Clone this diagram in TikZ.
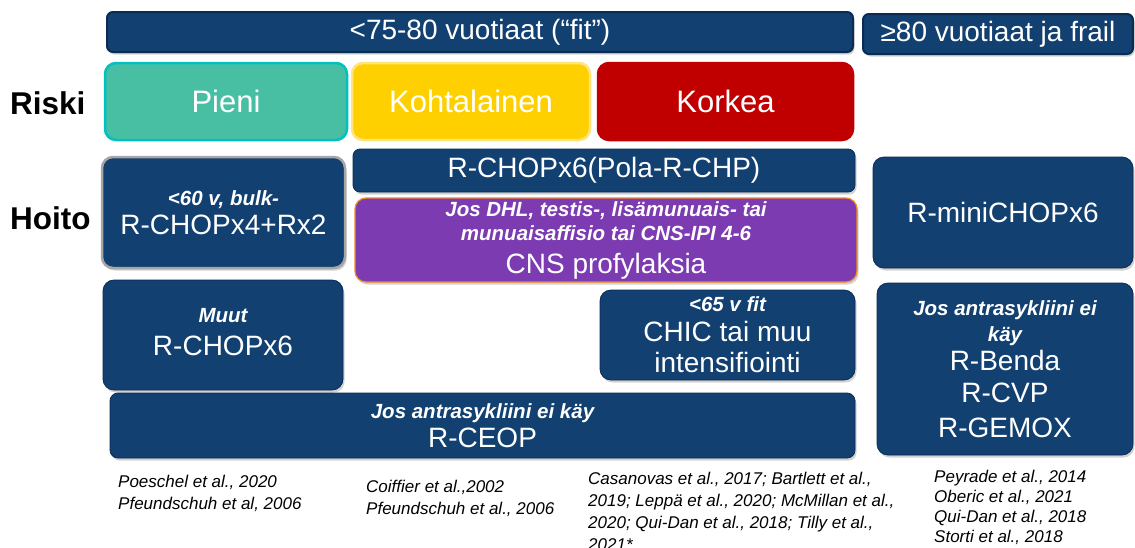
\documentclass[tikz,border=0pt]{standalone}
\usepackage{fontspec}
\setmainfont{Liberation Sans}
\usepackage{tikz}
\usetikzlibrary{shadows}
\usepackage{xcolor}
\definecolor{cNavy}{RGB}{17,64,113}
\definecolor{cNavyEdge}{RGB}{10,44,82}
\definecolor{cTeal}{RGB}{72,191,163}
\definecolor{cTealEdge}{RGB}{0,192,192}
\definecolor{cYellow}{RGB}{255,208,0}
\definecolor{cYellowEdge}{RGB}{255,228,125}
\definecolor{cRed}{RGB}{192,0,0}
\definecolor{cPurple}{RGB}{125,59,178}
\definecolor{cOrange}{RGB}{240,140,40}
\newcommand{\cond}[1]{{\fontsize{20.5}{23}\selectfont\bfseries\itshape #1}}

\tikzset{
  box/.style={rectangle, rounded corners=11pt, align=center, text=white,
    inner sep=0pt, font=\fontsize{28}{31}\selectfont},
  shade/.style={drop shadow={shadow xshift=1.5pt, shadow yshift=-2.5pt, opacity=0.35}},
  navybox/.style={box, shade, fill=cNavy, draw=cNavyEdge, line width=0.8pt},
  navybar/.style={navybox, rounded corners=6pt, line width=2pt},
  riskbox/.style={box, line width=2.5pt, font=\fontsize{31}{34}\selectfont},
  rowlabel/.style={anchor=west, inner sep=0pt, font=\fontsize{31.5}{34}\selectfont\bfseries},
  refs/.style={anchor=north west, align=left, inner sep=0pt,
    font=\fontsize{17}{22}\selectfont\itshape}
}

\begin{document}
\begin{tikzpicture}[x=1pt, y=-1pt]
  \useasboundingbox[fill=white] (0,0) rectangle (1135,547);
  % age groups
  \node[navybar, minimum width=746, minimum height=40] (fit) at (480,32) {<75-80 vuotiaat (“fit”)};
  \node[navybar, minimum width=270, minimum height=40] (frail) at (998,34) {≥80 vuotiaat ja frail};
  % risk row
  \node[rowlabel] (riski) at (10,103) {Riski};
  \node[riskbox, fill=cTeal, draw=cTealEdge, minimum width=242, minimum height=77] (pieni) at (226,101.5) {Pieni};
  \node[riskbox, fill=cYellow, draw=cYellowEdge, minimum width=238, minimum height=77] (kohta) at (471,101.5) {Kohtalainen};
  \node[riskbox, fill=cRed, draw=cRed, minimum width=255, minimum height=77] (korkea) at (725.5,101.5) {Korkea};
  % treatment row
  \node[rowlabel] (hoito) at (10,218) {Hoito};
  \node[navybox, draw=black!35, line width=2.5pt, minimum width=243, minimum height=111] (bulk) at (223.5,212.5)
    {\cond{<60 v, bulk-}\\[-2pt] R-CHOPx4+Rx2};
  \node[navybox, rounded corners=7pt, minimum width=502, minimum height=43] (pola) at (604,170.5) {R-CHOPx6(Pola-R-CHP)};
  \node[box, shade, fill=cPurple, draw=cOrange, line width=1.2pt, minimum width=502, minimum height=84] (cns) at (606,240)
    {\cond{Jos DHL, testis-, lisämunuais- tai}\\[-7pt] \cond{munuaisaffisio tai CNS-IPI 4-6}\\[2pt] CNS profylaksia};
  \node[navybox, minimum width=260, minimum height=111] (mini) at (1003,212.5) {R-miniCHOPx6};
  \node[navybox, minimum width=240, minimum height=110] (muut) at (223,335)
    {\cond{Muut}\\[2pt] R-CHOPx6\\[-24pt]\mbox{}};
  \node[navybox, minimum width=255, minimum height=90] (intens) at (727.5,335)
    {\cond{<65 v fit}\\[-1pt] CHIC tai muu\\ intensifiointi};
  \node[navybox, minimum width=256, minimum height=172] (antra) at (1005,369)
    {\cond{Jos antrasykliini ei}\\[-5pt] \cond{käy}\\[-2pt] R-Benda\\[1pt] R-CVP\\[4pt] R-GEMOX};
  \node[navybox, rounded corners=8pt, minimum width=745, minimum height=65] (ceop) at (482.5,425.5)
    {\cond{Jos antrasykliini ei käy}\\[-2pt] R-CEOP};
  % references
  \node[refs] (ref1) at (118,475) {Poeschel et al., 2020\\Pfeundschuh et al, 2006};
  \node[refs] (ref2) at (366,480) {Coiffier et al.,2002\\Pfeundschuh et al., 2006};
  \node[refs] (ref3) at (588,472) {Casanovas et al., 2017; Bartlett et al.,\\2019; Leppä et al., 2020; McMillan et al.,\\2020; Qui-Dan et al., 2018; Tilly et al.,\\2021*};
  \node[refs, font=\fontsize{17}{20}\selectfont\itshape] (ref4) at (934,470) {Peyrade et al., 2014\\Oberic et al., 2021\\Qui-Dan et al., 2018\\Storti et al., 2018};
\end{tikzpicture}
\end{document}
